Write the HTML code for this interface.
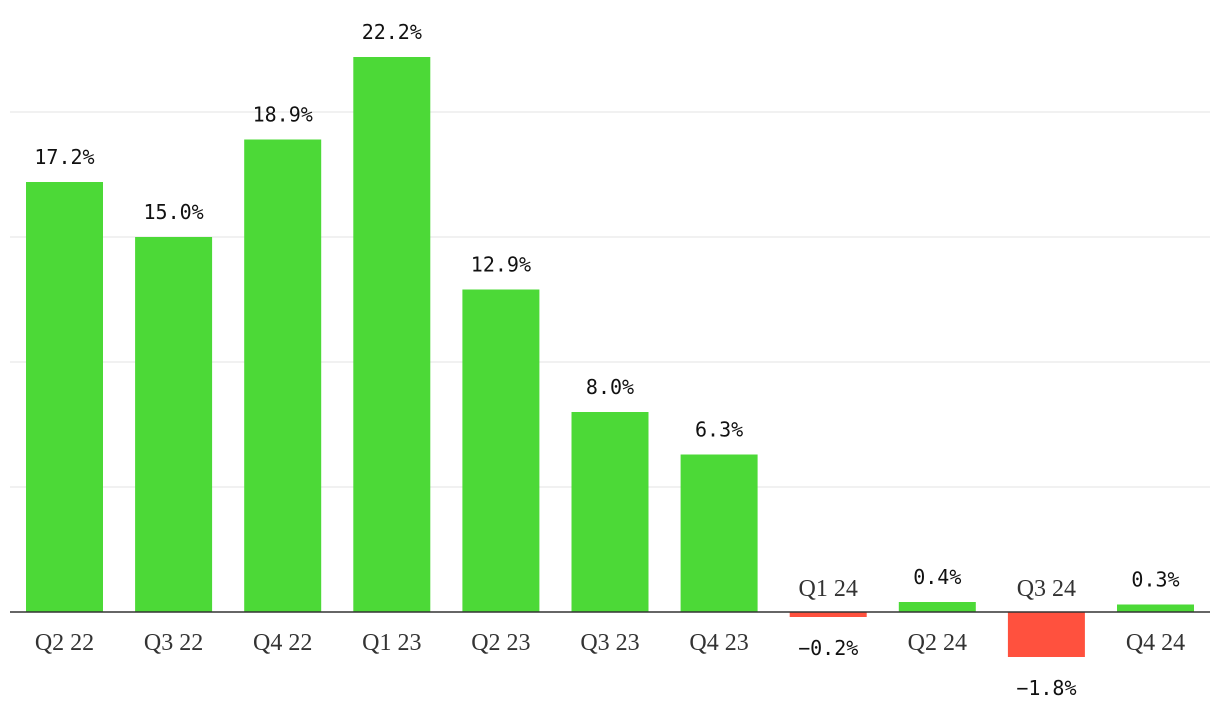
<!DOCTYPE html>
<html><head><meta charset="utf-8"><style>body{margin:0;background:#fff}svg{display:block}</style></head>
<body>
<svg id="chart" width="1220" height="724" xmlns="http://www.w3.org/2000/svg"></svg>
<script>
const categories=["Q2 22","Q3 22","Q4 22","Q1 23","Q2 23","Q3 23","Q4 23","Q1 24","Q2 24","Q3 24","Q4 24"];
const values=[17.2,15.0,18.9,22.2,12.9,8.0,6.3,-0.2,0.4,-1.8,0.3];
const gridTicks=[5,10,15,20];
const NS="http://www.w3.org/2000/svg";
const svg=document.getElementById('chart');
const y0=612, pxPer=25;
const y=v=>y0-v*pxPer;
const x=i=>64.5+i*109.1;
const bw=77;
function el(t,a){const e=document.createElementNS(NS,t);for(const k in a)e.setAttribute(k,a[k]);svg.appendChild(e);return e;}
gridTicks.forEach(t=>{const g=el('line',{x1:10,x2:1210,y1:y(t),y2:y(t),stroke:'#e3e3e3','stroke-width':1});

});
values.forEach((v,i)=>{
 const top=Math.min(y(v),y0), h=Math.abs(y(v)-y0);
 const r=el('rect',{x:x(i)-bw/2,y:top,width:bw,height:Math.max(h,1),fill:v>=0?'#4cd937':'#ff513e'});
 
 
 const vl=el('text',{x:x(i),y:v>=0?y(v)-18:y(v)+38,'text-anchor':'middle','font-family':'"DejaVu Sans Mono","Liberation Mono",monospace','font-size':20,fill:'#111'});
 vl.textContent=(v<0?'\u2212'+Math.abs(v).toFixed(1):v.toFixed(1))+'%';
 
 
 const cl=el('text',{x:x(i),y:v>=0?650:596,'text-anchor':'middle','font-family':'"Liberation Serif",serif','font-size':24,fill:'#333'});
 cl.textContent=categories[i];
 
 
});
const b=el('line',{x1:10,x2:1210,y1:y0,y2:y0,stroke:'#333','stroke-width':1.5});


</script>
</body></html>
